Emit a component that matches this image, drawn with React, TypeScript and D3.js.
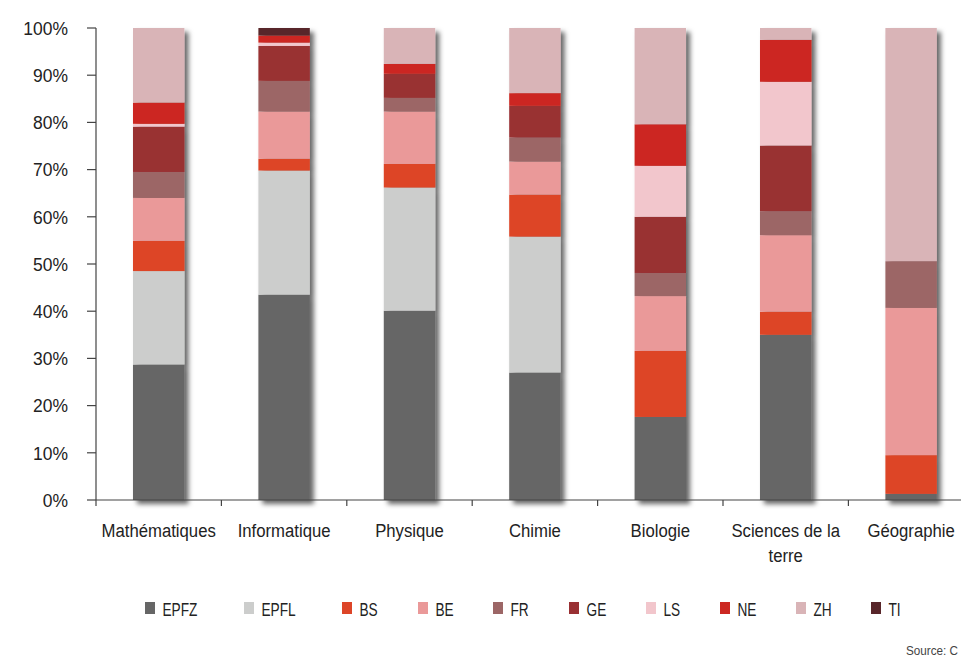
import React from 'react';
import * as d3 from 'd3';

const categories = ['Mathématiques', 'Informatique', 'Physique', 'Chimie', 'Biologie', 'Sciences de la terre', 'Géographie'];
const seriesNames = ['EPFZ', 'EPFL', 'BS', 'BE', 'FR', 'GE', 'LS', 'NE', 'ZH', 'TI'];
const seriesColors = ['#666666', '#cccdcc', '#dd4528', '#ea9999', '#9c6666', '#993033', '#f2c6cc', '#cc2822', '#d9b4b7', '#58262a'];

const epfz = [28.7, 43.5, 40.1, 27.0, 17.6, 35.0, 1.3];
const epfl = [19.8, 26.3, 26.1, 28.8, 0, 0, 0];
const bs = [6.4, 2.5, 5.0, 8.9, 14.0, 4.9, 8.2];
const be = [9.1, 10.0, 11.1, 7.0, 11.6, 16.2, 31.2];
const fr = [5.5, 6.5, 2.9, 5.1, 4.9, 5.1, 9.9];
const ge = [9.6, 7.4, 5.1, 6.7, 11.9, 13.9, 0];
const ls = [0.6, 0.7, 0, 0, 10.8, 13.5, 0];
const ne = [4.5, 1.5, 2.1, 2.7, 8.8, 8.9, 0];
const zh = [15.8, 0, 7.6, 13.8, 20.4, 2.5, 49.4];
const ti = [0, 1.6, 0, 0, 0, 0, 0];

const yTicks = [0, 10, 20, 30, 40, 50, 60, 70, 80, 90, 100];

const seriesValues = [epfz, epfl, bs, be, fr, ge, ls, ne, zh, ti];

// legend slot offsets (layout, px)
const legendX = [145, 244, 342, 418, 493, 569, 646, 720, 796, 871];

const FONT = '"Liberation Sans", Arial, sans-serif';

// condensed-looking text: horizontal squeeze of a regular face
function CText(props: { x: number; y: number; sx: number; anchor?: string; size: number; fill?: string; children: any }) {
  const { x, y, sx, anchor = 'start', size, fill = '#222', children } = props;
  return (
    <text
      transform={`translate(${x},${y}) scale(${sx},1)`}
      textAnchor={anchor}
      fontSize={size}
      fill={fill}
    >
      {children}
    </text>
  );
}

export default function App() {
  const width = 961;
  const height = 658;
  const left = 96;
  const top = 28;
  const bottom = 500;
  const step = 125.4;

  const table = categories.map((c, i) => {
    const row: any = { category: c };
    seriesNames.forEach((s, j) => (row[s] = seriesValues[j][i]));
    return row;
  });
  const stacked = d3.stack().keys(seriesNames)(table);

  const x = d3.scaleBand().domain(categories).range([left, left + categories.length * step]).padding(0);
  const y = d3.scaleLinear().domain([0, 100]).range([bottom, top]);
  const barW = x.bandwidth() * 0.41;

  return (
    <div style={{ position: 'fixed', left: 0, top: 0, width, height, background: '#fff', overflow: 'hidden' }}>
      <svg width={width} height={height} style={{ display: 'block' }} fontFamily={FONT}>
        <defs>
          <filter id="shadow" x="-30%" y="-10%" width="170%" height="130%">
            <feDropShadow dx="4" dy="4" stdDeviation="2.8" floodColor="#000" floodOpacity="0.6" />
          </filter>
        </defs>

        {categories.map((c, i) => (
          <g key={c} filter="url(#shadow)">
            {stacked.map((layer, j) => {
              const d = layer[i];
              const h = y(d[0]) - y(d[1]);
              if (h <= 0) return null;
              return (
                <rect
                  key={layer.key}
                  x={(x(c) as number) + (x.bandwidth() - barW) / 2}
                  y={y(d[1])}
                  width={barW}
                  height={h}
                  fill={seriesColors[j]}
                />
              );
            })}
          </g>
        ))}

        {/* y axis */}
        <line x1={left} x2={left} y1={top} y2={bottom} stroke="#444" strokeWidth={1.2} />
        {yTicks.map((t) => (
          <g key={t}>
            <line x1={left - 9} x2={left} y1={y(t)} y2={y(t)} stroke="#444" strokeWidth={1.2} />
            <CText x={68} y={y(t) + 6.8} sx={0.92} anchor="end" size={19}>
              {t}%
            </CText>
          </g>
        ))}

        {/* x axis */}
        <line x1={left} x2={left + categories.length * step} y1={bottom} y2={bottom} stroke="#444" strokeWidth={1.2} />
        {categories.map((c) => (
          <line key={c} x1={x(c) as number} x2={x(c) as number} y1={bottom} y2={bottom + 6} stroke="#444" strokeWidth={1.2} />
        ))}
        {categories.map((c) => {
          const cx = (x(c) as number) + x.bandwidth() / 2;
          const lines = c === 'Sciences de la terre' ? ['Sciences de la', 'terre'] : [c];
          return (
            <g key={c}>
              {lines.map((l, k) => (
                <CText key={k} x={cx} y={537 + k * 25} sx={0.88} anchor="middle" size={19}>
                  {l}
                </CText>
              ))}
            </g>
          );
        })}

        {/* legend */}
        {seriesNames.map((s, i) => (
          <g key={s}>
            <rect x={legendX[i]} y={602} width={10} height={12} fill={seriesColors[i]} />
            <CText x={legendX[i] + 17.5} y={615.5} sx={0.72} size={19}>
              {s}
            </CText>
          </g>
        ))}

        <CText x={958} y={655} sx={0.9} size={13} fill="#444" anchor="end">
          Source: C
        </CText>
      </svg>
    </div>
  );
}
